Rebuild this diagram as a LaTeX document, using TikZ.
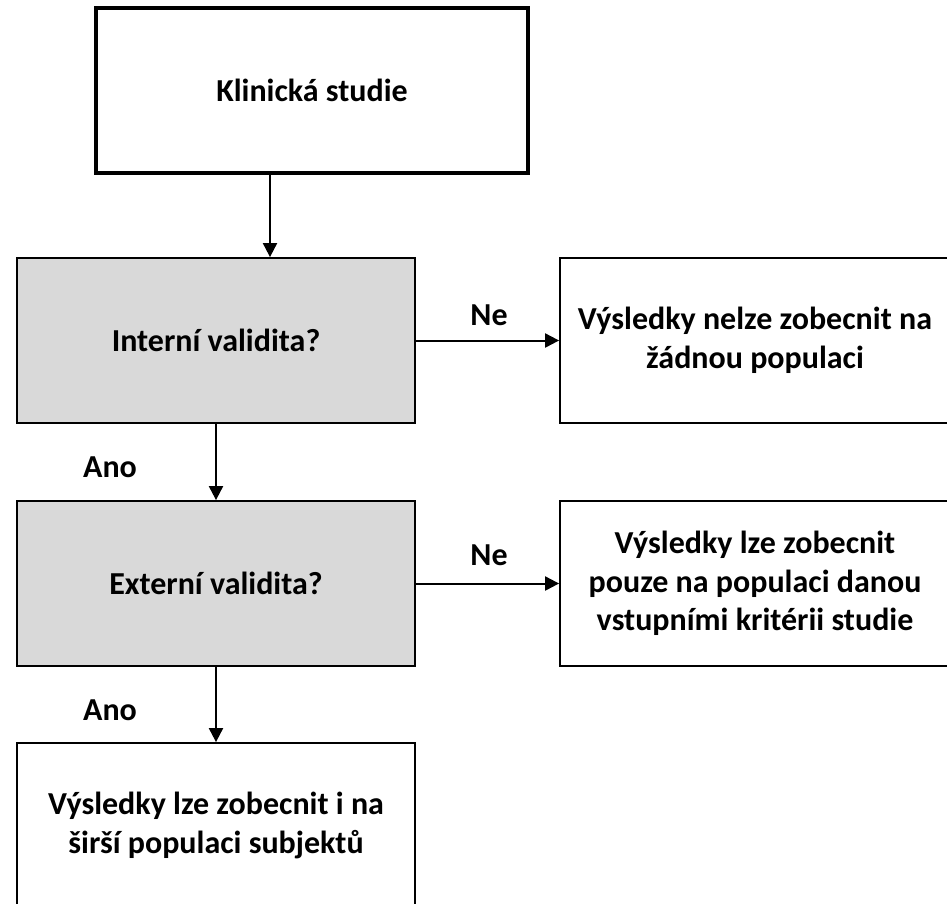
\documentclass[tikz,border=0pt]{standalone}
\usepackage{fontspec}
\setmainfont{Carlito}
\usetikzlibrary{arrows.meta}

\begin{document}
\begin{tikzpicture}[x=1pt,y=-1pt,
  box/.style={draw, line width=1.8pt, minimum height=165pt, align=center, inner sep=0pt, font=\bfseries\fontsize{32}{38.5}\selectfont},
  qbox/.style={box, fill=black!15, minimum width=398pt},
  lab/.style={inner sep=0pt, font=\bfseries\fontsize{32}{38.5}\selectfont},
  arr/.style={line width=2pt, -{Triangle[length=14pt,width=14pt]}}]
\useasboundingbox (0,0) rectangle (947,903);
% boxes
\node[box, line width=3.2pt, minimum width=432pt] (study) at (312,90.5) {Klinická studie};
\node[qbox] (intq) at (216,340.5) {Interní validita?};
\node[box, minimum width=390pt] (intno) at (755,340.5) {Výsledky nelze zobecnit na\\žádnou populaci};
\node[qbox] (extq) at (216,583.5) {Externí validita?};
\node[box, minimum width=390pt] (extno) at (755,583.5) {Výsledky lze zobecnit\\pouze na populaci danou\\vstupními kritérii studie};
\node[box, minimum width=398pt] (res) at (216,825.5) {Výsledky lze zobecnit i na\\širší populaci subjektů};
% arrows
\coordinate (split) at (270,0);
\draw[arr] (study.south -| split) -- (intq.north -| split);
\draw[arr] (intq) -- (intno);
\draw[arr] (intq) -- (extq);
\draw[arr] (extq) -- (extno);
\draw[arr] (extq) -- (res);
% labels
\node[lab] (ne1) at (489,315) {Ne};
\node[lab] (ne2) at (489,555) {Ne};
\node[lab] (ano1) at (110,467) {Ano};
\node[lab] (ano2) at (110,710) {Ano};
\end{tikzpicture}
\end{document}
